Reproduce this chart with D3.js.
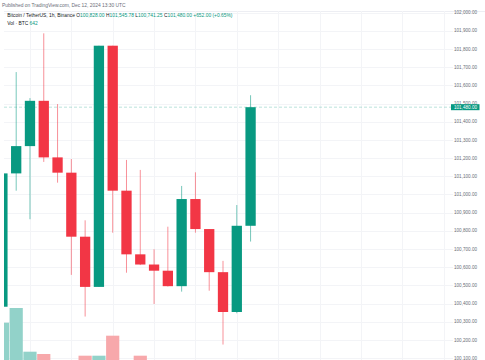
<!DOCTYPE html>
<html><head><meta charset="utf-8">
<script src="https://cdn.jsdelivr.net/npm/d3@7/dist/d3.min.js"></script>
<style>html,body{margin:0;padding:0;background:#fff;}svg{display:block;}</style>
</head><body>
<script>
// Hourly candles, Dec 11 19:00 UTC -> Dec 12 13:00 UTC
const times = ["19:00","20:00","21:00","22:00","23:00","00:00","01:00","02:00","03:00","04:00","05:00","06:00","07:00","08:00","09:00","10:00","11:00","12:00","13:00"];
const opens  = [100383,101116,101266,101515,101204,101120,100768,100492,101818,101021,100671,100615,100581,100496,100975,100810,100573,100354,100828.00];
const highs  = [101130,101673,101530,101886,101497,101195,100858,101818,101818,101190,101135,100699,100823,101047,101122,100810,100635,100942,101545.78];
const lows   = [100370,101021,100864,101179,101065,100558,100329,100492,100790,100570,100612,100398,100494,100466,100790,100471,100175,100347,100741.25];
const closes = [101116,101266,101515,101204,101120,100768,100492,101818,101021,100671,100615,100581,100496,100975,100810,100573,100354,100828,101480.00];
const volumes = [2235,2863,996,897,620,600,825,825,1680,640,825,450,520,610,540,580,630,600,642];
const priceTicks = [100100,100200,100300,100400,100500,100600,100700,100800,100900,101000,101100,101200,101300,101400,101500,101600,101700,101800,101900,102000];
const gridSlots = [2,5,8,11,14,17,20,23,26,29,32];
const lastPrice = 101480.00;

const W = 485, H = 360;
const UP = "#089981", DOWN = "#f23645";
const UPVOL = "#92d2c9", DOWNVOL = "#f7a8ab";
const font = "'Liberation Sans', Arial, sans-serif";

const svg = d3.select("body").append("svg").attr("width", W).attr("height", H);
const plotL = 4, plotR = 453, plotT = 11;

const x = d3.scaleLinear().domain([0, 32]).range([2.4, 443.6]);
const y = d3.scaleLinear().domain([100100, 102000]).range([358.2, 12.6]);
const yv = d3.scaleLinear().domain([0, 3000]).range([375, 304.8]);

svg.append("defs").append("clipPath").attr("id", "plot")
  .append("rect").attr("x", plotL).attr("y", plotT).attr("width", plotR - plotL).attr("height", H - plotT);

// top separator
svg.append("line").attr("x1", plotL).attr("x2", W).attr("y1", 11.5).attr("y2", 11.5)
  .attr("stroke", "#e0e3eb").attr("stroke-width", 0.6);

const g = svg.append("g").attr("clip-path", "url(#plot)");

// gridlines
g.selectAll(".hg").data(priceTicks).enter().append("line")
  .attr("x1", plotL).attr("x2", plotR)
  .attr("y1", d => Math.round(y(d)) + 0.5).attr("y2", d => Math.round(y(d)) + 0.5)
  .attr("stroke", "#f3f4f7").attr("stroke-width", 1);
g.selectAll(".vg").data(gridSlots).enter().append("line")
  .attr("y1", plotT).attr("y2", H)
  .attr("x1", d => Math.round(x(d)) + 0.5).attr("x2", d => Math.round(x(d)) + 0.5)
  .attr("stroke", "#f3f4f7").attr("stroke-width", 1);

const idx = d3.range(times.length);

// volume bars
const vw = 13.2;
g.selectAll(".vol").data(idx).enter().append("rect")
  .attr("x", i => x(i) - vw / 2).attr("width", vw)
  .attr("y", i => yv(volumes[i])).attr("height", i => yv(0) - yv(volumes[i]))
  .attr("fill", i => closes[i] >= opens[i] ? UPVOL : DOWNVOL);

// last price line
g.append("line").attr("x1", plotL).attr("x2", plotR)
  .attr("y1", y(lastPrice)).attr("y2", y(lastPrice))
  .attr("stroke", UP).attr("stroke-opacity", 0.35).attr("stroke-width", 0.8)
  .attr("stroke-dasharray", "3,2");

// wicks
g.selectAll(".wick").data(idx).enter().append("line")
  .attr("x1", i => x(i)).attr("x2", i => x(i))
  .attr("y1", i => y(highs[i])).attr("y2", i => y(lows[i]))
  .attr("stroke", i => closes[i] >= opens[i] ? UP : DOWN)
  .attr("stroke-opacity", 0.55).attr("stroke-width", 1);

// bodies
const bw = 10.3;
g.selectAll(".body").data(idx).enter().append("rect")
  .attr("x", i => x(i) - bw / 2).attr("width", bw)
  .attr("y", i => y(Math.max(opens[i], closes[i])))
  .attr("height", i => Math.max(1, Math.abs(y(opens[i]) - y(closes[i]))))
  .attr("fill", i => closes[i] >= opens[i] ? UP : DOWN);

// price axis labels
svg.selectAll(".pl").data(priceTicks).enter().append("text")
  .attr("x", 454).attr("y", d => y(d)).attr("dy", "0.35em")
  .attr("font-family", font).attr("font-size", 4.6).attr("fill", "#6a6d78")
  .text(d => d3.format(",.2f")(d));

// last price tag
svg.append("rect").attr("x", 451).attr("y", y(lastPrice) - 3).attr("width", 28.5).attr("height", 6)
  .attr("fill", UP);
svg.append("text").attr("x", 454).attr("y", y(lastPrice)).attr("dy", "0.35em")
  .attr("font-family", font).attr("font-size", 4.6).attr("fill", "#ffffff")
  .text(d3.format(",.2f")(lastPrice));

// header
svg.append("text").attr("x", 2).attr("y", 7.3)
  .attr("font-family", font).attr("font-size", 4.9).attr("fill", "#6a6d78")
  .text("Published on TradingView.com, Dec 12, 2024 13:30 UTC");

const n = times.length - 1;
const chg = closes[n] - opens[n];
const line1 = svg.append("text").attr("x", 7.3).attr("y", 17.4)
  .attr("font-family", font).attr("font-size", 4.9).attr("fill", "#131722");
const parts = [
  ["Bitcoin / TetherUS, 1h, Binance ", "#131722"],
  ["O", "#131722"], [d3.format(",.2f")(opens[n]) + " ", UP],
  ["H", "#131722"], [d3.format(",.2f")(highs[n]) + " ", UP],
  ["L", "#131722"], [d3.format(",.2f")(lows[n]) + " ", UP],
  ["C", "#131722"], [d3.format(",.2f")(closes[n]) + " ", UP],
  ["+" + d3.format(",.2f")(chg) + " (+" + d3.format(".2f")(chg / opens[n] * 100) + "%)", UP]
];
parts.forEach(p => line1.append("tspan").attr("fill", p[1]).attr("xml:space", "preserve").text(p[0]));

const line2 = svg.append("text").attr("x", 7.3).attr("y", 25)
  .attr("font-family", font).attr("font-size", 4.9).attr("fill", "#131722");
line2.append("tspan").text("Vol · BTC ");
line2.append("tspan").attr("fill", UP).text(d3.format(",")(volumes[n]));
</script>
</body></html>
